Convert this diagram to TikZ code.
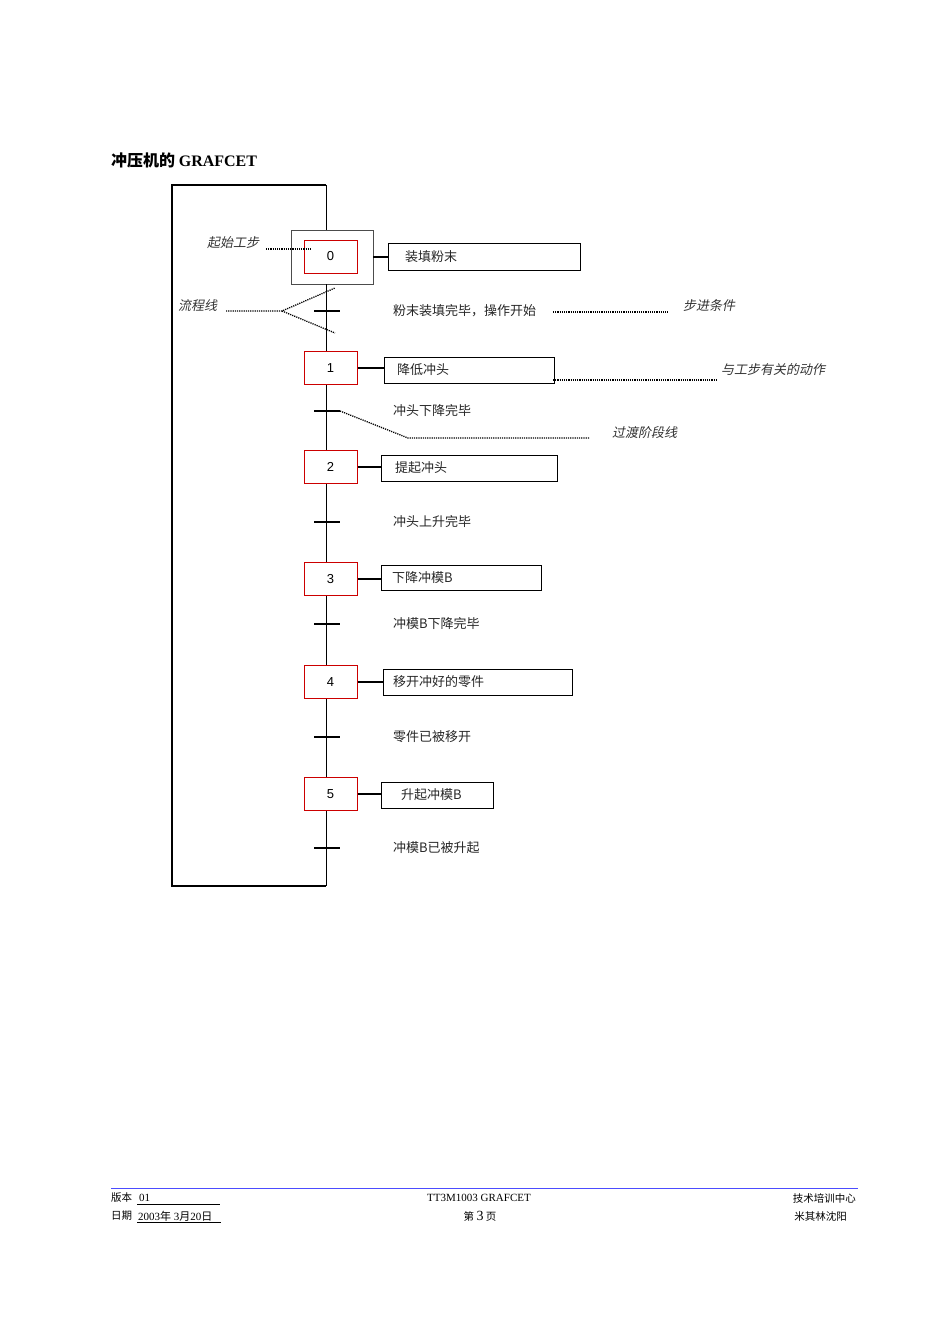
\documentclass[tikz,border=0pt]{standalone}
\usepackage{fontspec}
\setmainfont{Liberation Serif}
\newfontfamily\cjk{Noto Sans CJK SC}
\newfontfamily\cjkit[FakeSlant=0.2]{Noto Sans CJK SC}
\newfontfamily\arial{Liberation Sans}
\begin{document}
\begin{tikzpicture}[x=1pt,y=-1pt,
  stepbox/.style={draw=red!80!black,line width=1pt,minimum width=53pt,minimum height=33pt,inner sep=0pt,font=\arial\fontsize{13}{15}\selectfont},
  actbox/.style={draw,line width=1pt,anchor=north west,inner sep=0pt},
  lbl/.style={font=\cjk\fontsize{13}{15}\selectfont,text=black!85,anchor=west,inner sep=0pt},
  note/.style={font=\cjkit\fontsize{13}{15}\selectfont,text=black!80,anchor=west,inner sep=0pt},
  foot/.style={font=\cjk\fontsize{10.5}{12}\selectfont,inner sep=0pt},
  dot/.style={dash pattern=on 1.2pt off 1pt,line width=1.3pt},
  flow/.style={line width=0.8pt}]
\useasboundingbox (0,0) rectangle (950,1343);
\node[anchor=west,inner sep=0pt,font=\cjk\bfseries\fontsize{16}{18}\selectfont] (title) at (111,160) {冲压机的 {\rmfamily\bfseries GRAFCET}};
% loop
\coordinate (tl) at (172,185); \coordinate (tr) at (326,185);
\coordinate (bl) at (172,886); \coordinate (br) at (326,886);
\draw[line width=1.2pt] (tr) -- (tl) -- (bl) -- (br);
% steps
\node[draw=black!70,minimum width=82pt,minimum height=54pt] (s0o) at (332,257) {};
\node[stepbox] (s0) at (330.5,256.5) {0};
\node[stepbox] (s1) at (330.5,368) {1};
\node[stepbox] (s2) at (330.5,467) {2};
\node[stepbox] (s3) at (330.5,579) {3};
\node[stepbox] (s4) at (330.5,682) {4};
\node[stepbox] (s5) at (330.5,794) {5};
\draw[flow] (tr) -- (s0o.north -| tr);
\draw[flow] (s0o.south -| tr) -- (s1.north -| tr);
\draw[flow] (s1.south -| tr) -- (s2.north -| tr);
\draw[flow] (s2.south -| tr) -- (s3.north -| tr);
\draw[flow] (s3.south -| tr) -- (s4.north -| tr);
\draw[flow] (s4.south -| tr) -- (s5.north -| tr);
\draw[flow] (s5.south -| tr) -- (br);
% actions
\node[actbox,minimum width=192pt,minimum height=27pt] (a0) at (388,243) {};
\node[lbl] at (405,256.5) {装填粉末};
\node[actbox,minimum width=170pt,minimum height=26pt] (a1) at (384,357) {};
\node[lbl] at (397,370) {降低冲头};
\node[actbox,minimum width=176pt,minimum height=26pt] (a2) at (381,455) {};
\node[lbl] at (395,468) {提起冲头};
\node[actbox,minimum width=160pt,minimum height=25pt] (a3) at (381,565) {};
\node[lbl] at (392,577.5) {下降冲模B};
\node[actbox,minimum width=189pt,minimum height=26pt] (a4) at (383,669) {};
\node[lbl] at (393,682) {移开冲好的零件};
\node[actbox,minimum width=112pt,minimum height=26pt] (a5) at (381,782) {};
\node[lbl] at (401,795) {升起冲模B};
\draw[line width=1.2pt] (s0o.east |- a0.west) -- (a0.west);
\draw[line width=1.2pt] (s1.east) -- (s1.east -| a1.west);
\draw[line width=1.2pt] (s2.east) -- (s2.east -| a2.west);
\draw[line width=1.2pt] (s3.east) -- (s3.east -| a3.west);
\draw[line width=1.2pt] (s4.east) -- (s4.east -| a4.west);
\draw[line width=1.2pt] (s5.east) -- (s5.east -| a5.west);
% transitions
\foreach \n/\y/\t in {t0/311/{粉末装填完毕，操作开始},t1/411/冲头下降完毕,t2/522/冲头上升完毕,t3/624/冲模B下降完毕,t4/737/零件已被移开,t5/848/冲模B已被升起}{
  \coordinate (\n a) at (314,\y); \coordinate (\n b) at (340,\y);
  \draw[line width=1.2pt] (\n a) -- (\n b);
  \node[lbl] (\n l) at (393,\y) {\t};
}
% annotations
\node[note] (n0) at (207,243) {起始工步};
\coordinate (n0s) at (266,249); \coordinate (n0e) at (312,249);
\draw[dot] (n0s) -- (n0e);
\node[note] (n1) at (178,306) {流程线};
\coordinate (f0) at (226,311); \coordinate (f1) at (282,311);
\coordinate (f2) at (335,288); \coordinate (f3) at (335,333);
\draw[dot] (f0) -- (f1) -- (f2); \draw[dot] (f1) -- (f3);
\coordinate (c0) at (553,312); \coordinate (c1) at (668,312);
\draw[dot] (c0) -- (c1);
\node[note] (n2) at (683,306) {步进条件};
\coordinate (d0) at (553,380); \coordinate (d1) at (716,380);
\draw[dot] (d0) -- (d1);
\node[note] (n3) at (721,370) {与工步有关的动作};
\coordinate (e1) at (408,438); \coordinate (e2) at (590,438);
\draw[dot] (t1b) -- (e1) -- (e2);
\node[note] (n4) at (612,433) {过渡阶段线};
% footer
\draw[blue!70,line width=0.8pt] (111,1188) coordinate (fl) -- (858,1188) coordinate (fr);
\node[foot,anchor=west] (v) at (111,1198) {版本};
\node[anchor=west,inner sep=0pt,font=\fontsize{11}{12}\selectfont] (v1) at (139,1198) {01};
\draw[line width=0.6pt] (137,1204) -- (220,1204);
\node[foot,anchor=west] (dt) at (111,1216) {日期};
\node[anchor=west,inner sep=0pt,font=\fontsize{11}{12}\selectfont] (dt1) at (138,1216) {2003{\cjk 年} 3{\cjk 月}20{\cjk 日}};
\draw[line width=0.6pt] (137,1222) -- (221,1222);
\node[inner sep=0pt,font=\fontsize{11}{12}\selectfont] (ft) at (479,1198) {TT3M1003 GRAFCET};
\node[foot] (pg) at (480,1216) {第 {\rmfamily\fontsize{14}{15}\selectfont 3} 页};
\node[foot,anchor=east] (r1) at (856,1198) {技术培训中心};
\node[foot,anchor=east] (r2) at (847,1216) {米其林沈阳};
\end{tikzpicture}
\end{document}
